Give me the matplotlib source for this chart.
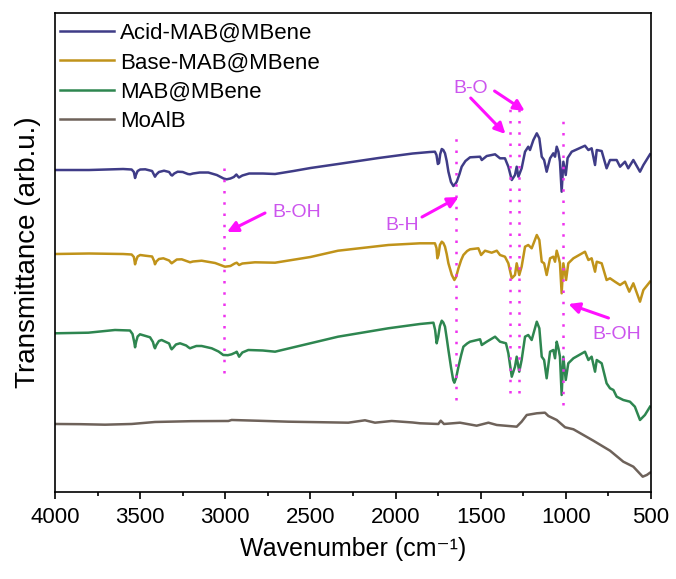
import matplotlib
matplotlib.use('Agg')
import matplotlib.pyplot as plt
from matplotlib.ticker import MultipleLocator

plt.rcParams['font.family'] = ['Liberation Sans', 'DejaVu Sans']

# FTIR spectra (arbitrary units, offset stacked)
acid_wn = [4000, 3800, 3600, 3550, 3537, 3530, 3525, 3515, 3500, 3470, 3430, 3418, 3413, 3405,
           3390, 3360, 3330, 3318, 3312, 3300, 3280, 3250, 3220, 3207, 3190, 3150, 3100, 3050,
           3010, 2992, 2970, 2950, 2935, 2928, 2920, 2900, 2860, 2780, 2708, 2600, 2500, 2338,
           2100, 1900, 1800, 1769, 1760, 1752, 1745, 1738, 1729, 1720, 1710, 1700, 1690, 1675,
           1661, 1650, 1641, 1625, 1612, 1590, 1563, 1504, 1494, 1465, 1416, 1387, 1358, 1338,
           1318, 1299, 1289, 1279, 1260, 1240, 1221, 1211, 1191, 1171, 1156, 1142, 1128, 1113,
           1093, 1074, 1064, 1054, 1044, 1035, 1025, 1015, 1001, 990, 966, 888, 868, 849, 829,
           819, 790, 761, 741, 702, 682, 653, 634, 604, 565, 545, 506]
acid_t = [330, 330, 331, 330.5, 328, 322, 325, 329, 330.5, 330.7, 329, 325, 323.3, 325.5,
          328, 329.3, 328, 325, 324.5, 326.5, 328.3, 328, 326, 325.7, 326.5, 327.5, 327.5, 325,
          321.5, 320.7, 321.5, 323, 325.5, 324, 322.5, 324.5, 326.5, 326.5, 326, 329, 332, 336,
          342, 346.5, 348, 348.3, 345, 336, 337, 346, 351, 350, 346.7, 339, 328.3, 318,
          314, 316, 318.3, 326, 333.3, 339, 342.7, 343.3, 340, 344, 345.7, 341.7, 341.7, 333.3,
          320, 325, 333.3, 323.3, 331.7, 348.3, 353.3, 350, 360, 366.7, 361.7, 343.3, 340, 328.3,
          341.7, 346.7, 343.3, 353.3, 348.3, 338.3, 308.3, 338.3, 325, 342, 348.3, 354.3, 350, 351.7, 335,
          350, 349, 331.7, 340, 340, 333.3, 338.3, 331.7, 340, 328.3, 335, 345.7]

base_wn = [4000, 3800, 3600, 3550, 3537, 3530, 3525, 3515, 3500, 3470, 3430, 3418, 3413, 3405,
           3390, 3364, 3330, 3320, 3315, 3305, 3285, 3256, 3220, 3207, 3190, 3139, 3060, 3002,
           2970, 2945, 2933, 2919, 2900, 2826, 2708, 2500, 2338, 2043, 1857, 1769, 1760, 1755,
           1748, 1740, 1729, 1720, 1710, 1700, 1690, 1670, 1655, 1645, 1631, 1615, 1602, 1580,
           1563, 1514, 1498, 1475, 1436, 1406, 1387, 1358, 1338, 1318, 1299, 1289, 1274, 1260,
           1240, 1221, 1201, 1171, 1156, 1142, 1128, 1113, 1093, 1074, 1064, 1054, 1044, 1035,
           1025, 1015, 999, 986, 956, 888, 868, 849, 829, 819, 790, 761, 741, 712, 682, 653,
           628, 604, 565, 545, 506]
base_t = [246, 246.5, 246, 245.5, 243, 235.7, 239, 243.5, 245, 244.3, 243.5, 239, 235.7, 238.5,
          241, 241.7, 239.5, 237.5, 236.7, 238, 240.5, 240.7, 238.5, 237.7, 238.5, 239.3, 237, 233.3,
          234, 236.5, 237.3, 235, 236.5, 237.7, 237.3, 243, 249.3, 255, 256.7, 256.7, 252, 241.7,
          245, 255, 258.3, 257, 253.3, 246, 236.7, 225, 220, 223, 231.7, 240, 245, 249,
          250.7, 251.7, 245, 249.3, 247.3, 249.3, 245, 243.3, 236.7, 221.7, 225, 236.7, 225, 233.3,
          253.3, 255, 251.7, 265, 260, 238.3, 236.7, 225, 241.7, 243.3, 238.3, 249.3, 243.3, 236.7,
          206.7, 236.7, 220, 236.7, 241.7, 248.3, 240, 241.7, 228.3, 238.3, 236.7, 220, 221.7, 218.3, 215, 218.3,
          208.3, 216.7, 198.3, 210, 218.3]

mab_wn = [4000, 3804, 3648, 3560, 3545, 3535, 3530, 3524, 3515, 3501, 3442, 3425, 3418, 3413,
          3405, 3390, 3374, 3330, 3320, 3315, 3305, 3290, 3266, 3230, 3215, 3207, 3195, 3170,
          3139, 3080, 3040, 3012, 2985, 2963, 2940, 2933, 2919, 2900, 2865, 2780, 2708, 2338,
          2043, 1857, 1778, 1768, 1759, 1750, 1740, 1729, 1720, 1710, 1700, 1690, 1675, 1662,
          1655, 1645, 1631, 1615, 1602, 1580, 1563, 1504, 1494, 1465, 1416, 1387, 1352, 1338,
          1318, 1299, 1289, 1274, 1260, 1240, 1221, 1201, 1171, 1156, 1142, 1128, 1113, 1093,
          1074, 1064, 1054, 1044, 1035, 1025, 1015, 1001, 986, 956, 888, 868, 849, 829, 819,
          790, 761, 741, 721, 702, 663, 624, 595, 565, 536, 506]
mab_t = [166.7, 167.3, 170, 169.5, 166, 158, 152.7, 158, 163.5, 165.7, 162.7, 158, 153.5, 151.7,
         155, 159, 160, 156.5, 152, 150.7, 152.5, 155.5, 156.7, 154.5, 152.5, 151.7, 152.5, 154,
         154, 151.7, 148.5, 145, 144.8, 145.7, 147.5, 148.3, 143.3, 147.5, 150, 149.5, 148.3, 163.3,
         171.7, 176, 177.3, 170, 156.7, 163, 174, 179.3, 177.5, 173.3, 162, 150, 133, 120,
         117.3, 122, 133.3, 145, 153.3, 156.5, 158.3, 160.7, 155, 158.3, 163.3, 158.3, 156.7, 146.7,
         123.3, 133.3, 143.3, 128.3, 140, 163.3, 165, 160, 178.3, 171.7, 143.3, 140, 121.7, 148.3,
         150, 141.7, 158.3, 151.7, 143.3, 105, 143.3, 120, 136.7, 141.7, 148.3, 140, 143.3, 128.3, 140,
         136.7, 116.7, 111.7, 110, 103.3, 100, 98.3, 93.3, 80, 85, 93.3]

moalb_wn = [4000, 3850, 3706, 3550, 3413, 3200, 2982, 2963, 2800, 2630, 2450, 2278, 2180, 2121,
            2023, 1900, 1857, 1749, 1735, 1716, 1622, 1524, 1455, 1406, 1289, 1260, 1230, 1171,
            1123, 1103, 1054, 1005, 956, 839, 741, 663, 604, 549, 525, 506]
moalb_t = [76, 75.8, 75.3, 76, 78, 78.8, 79, 80, 79.2, 78.3, 77.8, 77.3, 79.7, 77.3,
           79, 77.5, 76.7, 76, 79.3, 76, 77.3, 74.3, 77.3, 75, 73.3, 78.3, 85, 86.7,
           87.3, 84, 80, 72.7, 70.7, 59.3, 49.3, 38.3, 33.3, 23.3, 25, 27.3]

series = [
    ('Acid-MAB@MBene', acid_wn, acid_t, '#3f3c87'),
    ('Base-MAB@MBene', base_wn, base_t, '#c0931a'),
    ('MAB@MBene', mab_wn, mab_t, '#2e8650'),
    ('MoAlB', moalb_wn, moalb_t, '#6e625a'),
]

# marked bands: wavenumber, top, bottom of the dotted guide
band_wn = [3010, 1645, 1328, 1274, 1019]
band_top = [340, 369, 397, 397, 387]
band_bot = [127, 100, 107, 107, 95]

# labels: text, text position, list of arrows (tail, head)
labels = [
    ('B-OH', (2726, 288), [((2767, 287), (2990, 268))]),
    ('B-H', (2062, 275), [((1845, 283), (1630, 303))]),
    ('B-O', (1660, 412), [((1559, 402), (1355, 366)), ((1419, 409), (1242, 389))]),
    ('B-OH', (847, 165), [((750, 182), (985, 196))]),
]

fig = plt.figure(figsize=(6.76, 5.79), dpi=100)
ax = fig.add_axes([0.0814, 0.1503, 0.8817, 0.8272])

for name, wn, t, c in series:
    ax.plot(wn, t, color=c, lw=1.8, label=name)

for w, top, bot in zip(band_wn, band_top, band_bot):
    ax.plot([w, w], [bot, top], color='#ee33ee', lw=1.8, linestyle=(0, (1, 3.5)))

for txt, pos, arrows in labels:
    ax.text(pos[0], pos[1], txt, color='#cc55ee', fontsize=14, ha='left', va='center')
    for tail, head in arrows:
        ax.annotate('', xy=head, xytext=tail,
                    arrowprops=dict(arrowstyle='-|>', color='#ff10ff', lw=2.2,
                                    mutation_scale=16, shrinkA=0, shrinkB=0))

ax.set_xlim(4000, 500)
ax.set_ylim(8, 487)
ax.xaxis.set_major_locator(MultipleLocator(500))
ax.xaxis.set_minor_locator(MultipleLocator(250))
ax.tick_params(axis='x', which='major', direction='out', length=5, width=1.2, labelsize=16, pad=6)
ax.tick_params(axis='x', which='minor', direction='out', length=3, width=1.2)
ax.set_yticks([])
for s in ax.spines.values():
    s.set_linewidth(1.2)

ax.set_xlabel('Wavenumber (cm\u207b\u00b9)', fontsize=18, labelpad=6)
ax.set_ylabel('Transmittance (arb.u.)', fontsize=20, labelpad=10)

ax.legend(loc='upper left', frameon=False, fontsize=16, handlelength=2.4,
          handletextpad=0.3, labelspacing=0.37, borderpad=0.2, borderaxespad=0.25,
          bbox_to_anchor=(-0.008, 1.0))

plt.savefig('out.png', dpi=100)
